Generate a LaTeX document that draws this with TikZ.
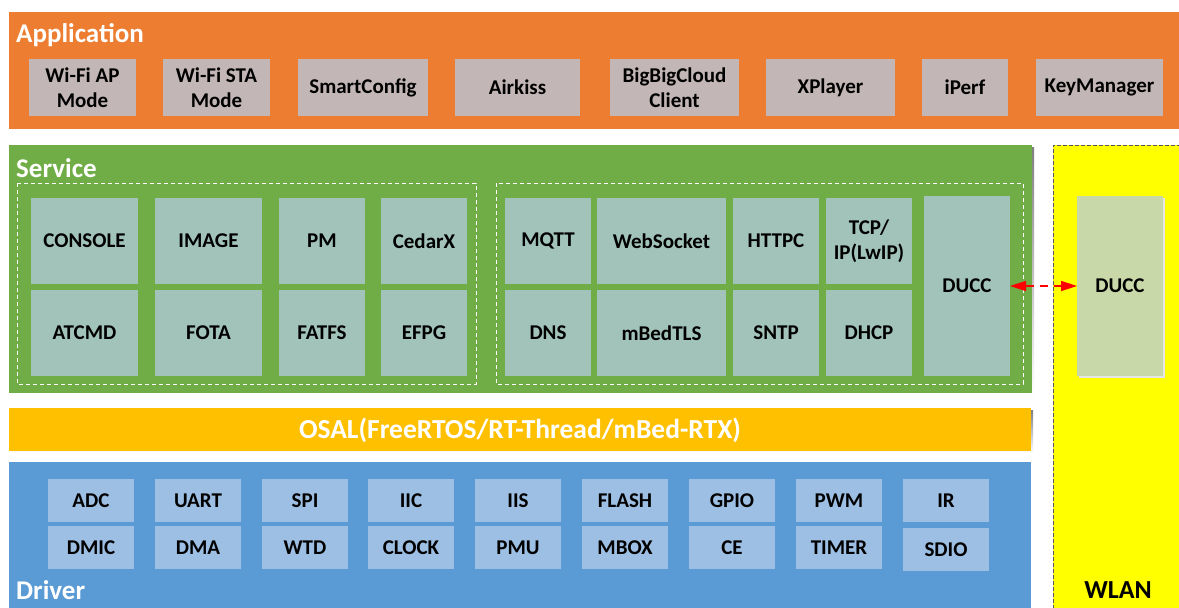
\documentclass[tikz,border=0pt]{standalone}
\usepackage{fontspec}
\setmainfont{Carlito}
\usetikzlibrary{arrows.meta}
\definecolor{apporange}{HTML}{ED7D31}
\definecolor{appcell}{HTML}{C3B6B6}
\definecolor{svcgreen}{HTML}{70AD47}
\definecolor{svccell}{HTML}{A2C3B9}
\definecolor{osalyellow}{HTML}{FFC000}
\definecolor{drvblue}{HTML}{5B9BD5}
\definecolor{drvcell}{HTML}{9DBFE3}
\definecolor{wlanyellow}{HTML}{FFFF00}
\definecolor{wlancell}{HTML}{C9D8A9}
\definecolor{shade}{HTML}{E4ECF4}
\tikzset{
  layer/.style={inner sep=0pt, outer sep=0pt},
  cell/.style={inner sep=0pt, outer sep=0pt, align=center, font=\fontsize{21}{25}\selectfont\bfseries, text=black},
  appcellbox/.style={cell, fill=appcell},
  svccellbox/.style={cell, fill=svccell},
  drvcellbox/.style={cell, fill=drvcell},
  layertitle/.style={anchor=west, inner sep=0pt, font=\fontsize{27}{29}\selectfont\bfseries, text=white},
  groupframe/.style={draw=white, dash pattern=on 4pt off 3pt, line width=0.8pt},
}
\begin{document}
\begin{tikzpicture}[x=1pt,y=-1pt]
\useasboundingbox (0,0) rectangle (1179,608);
\fill[white] (0,0) rectangle (1179,608);

% ---------- WLAN column ----------
\fill[wlanyellow] (1053,145) rectangle (1185,615);
\draw[gray!70!black, dash pattern=on 4pt off 2pt, line width=1pt] (1053,615) -- (1053,145) -- (1185,145);
\node[inner sep=0pt, font=\fontsize{26}{28}\selectfont\bfseries] (wlan) at (1118,590) {WLAN};

% ---------- Application layer ----------
\fill[shade] (11,14) rectangle (1181,132);
\node[layer, fill=apporange, minimum width=1170pt, minimum height=117pt, anchor=north west] (app) at (9,12) {};
\node[layertitle] (apptitle) at (16,35) {Application};
\node[appcellbox, minimum width=107pt, minimum height=57pt] (wifiap)  at (82.5,87.5)  {Wi-Fi AP\\Mode};
\node[appcellbox, minimum width=107pt, minimum height=57pt] (wifista) at (216.5,87.5) {Wi-Fi STA\\Mode};
\node[appcellbox, minimum width=130pt, minimum height=57pt] (smartcfg) at (363,87.5) {SmartConfig};
\node[appcellbox, minimum width=125pt, minimum height=57pt] (airkiss) at (517.5,87.5) {Airkiss};
\node[appcellbox, minimum width=129pt, minimum height=57pt] (bigcloud) at (674.5,87.5) {BigBigCloud\\Client};
\node[appcellbox, minimum width=129pt, minimum height=57pt] (xplayer) at (830.5,87.5) {XPlayer};
\node[appcellbox, minimum width=86pt, minimum height=57pt] (iperf) at (965,87.5) {iPerf};
\node[appcellbox, minimum width=127pt, minimum height=57pt] (keymgr) at (1099.5,87.5) {KeyManager};

% ---------- Service layer ----------
\fill[shade] (11,147) rectangle (1034,396);
\node[layer, fill=svcgreen, minimum width=1023pt, minimum height=248pt, anchor=north west] (svc) at (9,145) {};
\node[layertitle] (svctitle) at (16,168) {Service};
\draw[groupframe] (17,183) rectangle (476,384);
\draw[groupframe] (496,183) rectangle (1023,384);

\node[svccellbox, minimum width=107pt, minimum height=86pt] (console) at (84.5,241) {CONSOLE};
\node[svccellbox, minimum width=107pt, minimum height=86pt] (image)   at (208.5,241) {IMAGE};
\node[svccellbox, minimum width=86pt,  minimum height=86pt] (pm)      at (322,241) {PM};
\node[svccellbox, minimum width=86pt,  minimum height=86pt] (cedarx)  at (424,241) {CedarX};
\node[svccellbox, minimum width=107pt, minimum height=86pt] (atcmd)   at (84.5,333) {ATCMD};
\node[svccellbox, minimum width=107pt, minimum height=86pt] (fota)    at (208.5,333) {FOTA};
\node[svccellbox, minimum width=86pt,  minimum height=86pt] (fatfs)   at (322,333) {FATFS};
\node[svccellbox, minimum width=86pt,  minimum height=86pt] (efpg)    at (424,333) {EFPG};

\node[svccellbox, minimum width=86pt,  minimum height=86pt] (mqtt)    at (548,241) {MQTT};
\node[svccellbox, minimum width=129pt, minimum height=86pt] (websock) at (661.5,241) {WebSocket};
\node[svccellbox, minimum width=86pt,  minimum height=86pt] (httpc)   at (776,241) {HTTPC};
\node[svccellbox, minimum width=86pt,  minimum height=86pt] (tcpip)   at (869,241) {TCP/\\IP(LwIP)};
\node[svccellbox, minimum width=86pt,  minimum height=86pt] (dns)     at (548,333) {DNS};
\node[svccellbox, minimum width=129pt, minimum height=86pt] (mbedtls) at (661.5,333) {mBedTLS};
\node[svccellbox, minimum width=86pt,  minimum height=86pt] (sntp)    at (776,333) {SNTP};
\node[svccellbox, minimum width=86pt,  minimum height=86pt] (dhcp)    at (869,333) {DHCP};
\node[svccellbox, minimum width=86pt,  minimum height=180pt] (ducc)   at (967,286) {DUCC};

\fill[black!10] (1079,198) rectangle (1165,378);
\node[cell, fill=wlancell, minimum width=86pt, minimum height=180pt] (wducc) at (1120,286) {DUCC};

\draw[red, line width=1.5pt, dash pattern=on 8pt off 6pt,
      {Triangle[length=16pt,width=10pt]}-{Triangle[length=16pt,width=10pt]}]
  (ducc.east) -- (wducc.west);

% ---------- OSAL layer ----------
\fill[shade] (11,410) rectangle (1033,453);
\node[layer, fill=osalyellow, minimum width=1022pt, minimum height=43pt, anchor=north west] (osal) at (9,408) {};
\node[inner sep=0pt, text=white, font=\fontsize{27.5}{29}\selectfont\bfseries] (osaltext) at (520,430) {OSAL(FreeRTOS/RT-Thread/mBed-RTX)};

% ---------- Driver layer ----------
\node[layer, fill=drvblue, minimum width=1022pt, minimum height=150pt, anchor=north west] (drv) at (9,462) {};
\node[layertitle] (drvtitle) at (16,590) {Driver};

\node[drvcellbox, minimum width=86pt, minimum height=43pt] (adc)   at (91,500.5)  {ADC};
\node[drvcellbox, minimum width=86pt, minimum height=43pt] (uart)  at (198,500.5) {UART};
\node[drvcellbox, minimum width=86pt, minimum height=43pt] (spi)   at (305,500.5) {SPI};
\node[drvcellbox, minimum width=86pt, minimum height=43pt] (iic)   at (411,500.5) {IIC};
\node[drvcellbox, minimum width=86pt, minimum height=43pt] (iis)   at (518,500.5) {IIS};
\node[drvcellbox, minimum width=86pt, minimum height=43pt] (flash) at (625,500.5) {FLASH};
\node[drvcellbox, minimum width=86pt, minimum height=43pt] (gpio)  at (732,500.5) {GPIO};
\node[drvcellbox, minimum width=86pt, minimum height=43pt] (pwm)   at (839,500.5) {PWM};
\node[drvcellbox, minimum width=86pt, minimum height=43pt] (ir)    at (946,500.5) {IR};
\node[drvcellbox, minimum width=86pt, minimum height=43pt] (dmic)  at (91,547.5)  {DMIC};
\node[drvcellbox, minimum width=86pt, minimum height=43pt] (dma)   at (198,547.5) {DMA};
\node[drvcellbox, minimum width=86pt, minimum height=43pt] (wtd)   at (305,547.5) {WTD};
\node[drvcellbox, minimum width=86pt, minimum height=43pt] (clock) at (411,547.5) {CLOCK};
\node[drvcellbox, minimum width=86pt, minimum height=43pt] (pmu)   at (518,547.5) {PMU};
\node[drvcellbox, minimum width=86pt, minimum height=43pt] (mbox)  at (625,547.5) {MBOX};
\node[drvcellbox, minimum width=86pt, minimum height=43pt] (ce)    at (732,547.5) {CE};
\node[drvcellbox, minimum width=86pt, minimum height=43pt] (timer) at (839,547.5) {TIMER};
\node[drvcellbox, minimum width=86pt, minimum height=43pt] (sdio)  at (946,549.5) {SDIO};
\end{tikzpicture}
\end{document}
